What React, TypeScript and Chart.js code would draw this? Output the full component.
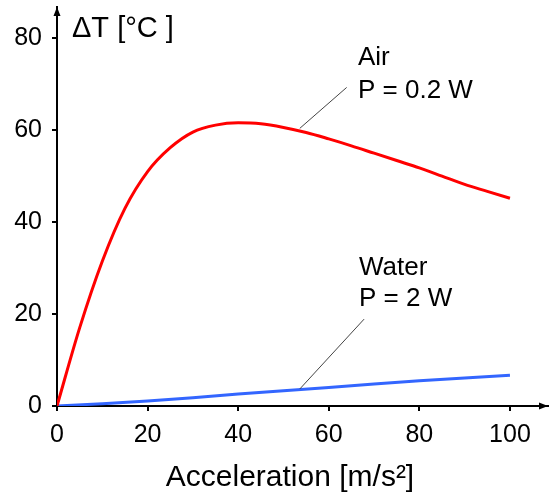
import React, { useEffect, useRef } from "react";
import { Chart, registerables } from "chart.js";

Chart.register(...registerables);

const xValues = [0, 5, 10, 15, 20, 25, 30, 35, 40, 45, 50, 55, 60, 65, 70, 75, 80, 85, 90, 95, 100];
const airValues = [0, 17, 31.5, 43, 51, 56.2, 59.6, 61.1, 61.6, 61.4, 60.6, 59.5, 58.1, 56.6, 55, 53.4, 51.8, 50, 48.2, 46.7, 45.2];
const waterX = [0, 10, 20, 30, 40, 50, 60, 70, 80, 90, 100];
const waterValues = [0, 0.5, 1.1, 1.8, 2.6, 3.3, 4.0, 4.8, 5.5, 6.1, 6.7];
const xTicks = [0, 20, 40, 60, 80, 100];
const yTicks = [0, 20, 40, 60, 80];

const FONT = '"Liberation Sans", Arial, sans-serif';

const overlay = {
  id: "overlay",
  afterDraw(chart: any) {
    const ctx = chart.ctx;
    const { left, right, top, bottom } = chart.chartArea;
    const xs = chart.scales.x;
    const ys = chart.scales.y;
    ctx.save();
    // arrows
    ctx.fillStyle = "#000";
    ctx.beginPath();
    ctx.moveTo(left, top);
    ctx.lineTo(left - 3.5, top + 9);
    ctx.lineTo(left + 3.5, top + 9);
    ctx.closePath();
    ctx.fill();
    ctx.beginPath();
    ctx.moveTo(right, bottom);
    ctx.lineTo(right - 9, bottom - 3.5);
    ctx.lineTo(right - 9, bottom + 3.5);
    ctx.closePath();
    ctx.fill();

    // leader lines
    ctx.strokeStyle = "#444";
    ctx.lineWidth = 1;
    ctx.beginPath();
    ctx.moveTo(xs.getPixelForValue(63.95), ys.getPixelForValue(69.3));
    ctx.lineTo(xs.getPixelForValue(53.6), ys.getPixelForValue(60.4));
    ctx.moveTo(xs.getPixelForValue(67.8), ys.getPixelForValue(18.9));
    ctx.lineTo(xs.getPixelForValue(53.6), ys.getPixelForValue(3.7));
    ctx.stroke();

    // texts
    ctx.fillStyle = "#000";
    ctx.textBaseline = "alphabetic";
    ctx.textAlign = "left";
    ctx.font = `26px ${FONT}`;
    ctx.fillText("Air", 358, 65);
    ctx.fillText("P = 0.2 W", 358, 98);
    ctx.fillText("Water", 359, 275);
    ctx.fillText("P = 2 W", 359, 306);

    ctx.font = `29px ${FONT}`;
    ctx.fillText("ΔT [°C ]", 72, 37);

    ctx.textAlign = "center";
    ctx.font = `30px ${FONT}`;
    ctx.fillText("Acceleration [m/s²]", 290, 486);
    ctx.restore();
  },
};

export default function App() {
  const ref = useRef<HTMLCanvasElement | null>(null);
  useEffect(() => {
    if (!ref.current) return;
    const chart = new Chart(ref.current, {
      type: "line",
      data: {
        datasets: [
          {
            label: "Air",
            data: xValues.map((x, i) => ({ x, y: airValues[i] })),
            borderColor: "#ff0000",
            borderWidth: 3,
            pointRadius: 0,
            cubicInterpolationMode: "monotone",
            fill: false,
          },
          {
            label: "Water",
            data: waterX.map((x, i) => ({ x, y: waterValues[i] })),
            borderColor: "#3366ff",
            borderWidth: 3,
            pointRadius: 0,
            tension: 0,
            fill: false,
          },
        ],
      },
      options: {
        animation: false,
        responsive: true,
        maintainAspectRatio: false,
        layout: { padding: { top: 7, right: 2, left: 0, bottom: 0 } },
        plugins: { legend: { display: false }, tooltip: { enabled: false } },
        scales: {
          x: {
            type: "linear",
            min: 0,
            max: 108.4,
            afterBuildTicks: (s: any) => {
              s.ticks = xTicks.map((v) => ({ value: v }));
            },
            afterFit: (s: any) => {
              s.height = 88;
              s.paddingLeft = 0;
              s.paddingRight = 0;
            },
            border: { display: true, color: "#000", width: 2 },
            grid: { drawOnChartArea: false, drawTicks: true, tickLength: 5, color: "#000", lineWidth: 2 },
            ticks: { color: "#000", font: { family: FONT, size: 25 }, padding: 9, maxRotation: 0, autoSkip: false },
          },
          y: {
            type: "linear",
            min: 0,
            max: 86.8,
            afterBuildTicks: (s: any) => {
              s.ticks = yTicks.map((v) => ({ value: v }));
            },
            afterFit: (s: any) => {
              s.width = 57;
              s.paddingTop = 0;
              s.paddingBottom = 0;
            },
            border: { display: true, color: "#000", width: 2 },
            grid: { drawOnChartArea: false, drawTicks: true, tickLength: 5, color: "#000", lineWidth: 2 },
            ticks: { color: "#000", font: { family: FONT, size: 25 }, padding: 10, autoSkip: false },
          },
        },
      },
      plugins: [overlay],
    });
    return () => chart.destroy();
  }, []);
  return (
    <div style={{ position: "absolute", left: 0, top: 0, width: 550, height: 494, background: "#fff" }}>
      <canvas ref={ref} />
    </div>
  );
}
